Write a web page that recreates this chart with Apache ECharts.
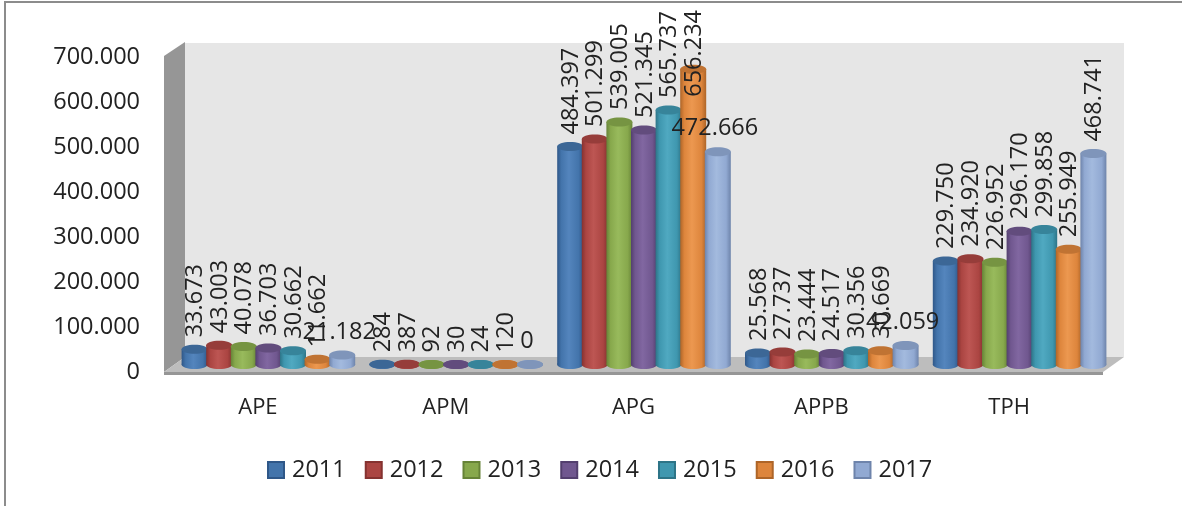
<!DOCTYPE html>
<html>
<head>
<meta charset="utf-8">
<script src="https://cdn.jsdelivr.net/npm/echarts@6/dist/echarts.min.js"></script>
<style>html,body{margin:0;background:#fff}#main{width:1182px;height:506px}</style>
</head>
<body>
<div id="main"></div>
<script>
var categories = ['APE', 'APM', 'APG', 'APPB', 'TPH'];
var years = ['2011', '2012', '2013', '2014', '2015', '2016', '2017'];
var v2011 = [33673, 284, 484397, 25568, 229750];
var v2012 = [43003, 387, 501299, 27737, 234920];
var v2013 = [40078, 92, 539005, 23444, 226952];
var v2014 = [36703, 30, 521345, 24517, 296170];
var v2015 = [30662, 24, 565737, 30356, 299858];
var v2016 = [11662, 120, 656234, 30669, 255949];
var v2017 = [21182, 0, 472666, 42059, 468741];
var values = [v2011, v2012, v2013, v2014, v2015, v2016, v2017];
// the 2017 labels stayed horizontal except on TPH
var flat2017 = ['APE', 'APM', 'APG', 'APPB'];

// base, light, dark, top
var colors = [
    ['#4374ab', '#5485bd', '#2f5788', '#3c6796'],
    ['#ab4542', '#bd5653', '#853230', '#963d3a'],
    ['#87a84c', '#98ba5c', '#668337', '#769442'],
    ['#70578f', '#8167a1', '#533f6e', '#624c7d'],
    ['#3f97af', '#50a9c1', '#2d7487', '#37849a'],
    ['#dd853c', '#ec9850', '#ae6528', '#c07333'],
    ['#91a9d2', '#a3bade', '#6e84ab', '#7f95ba']
];

var fontName = '"Open Sans", sans-serif';
var depthX = 21, depthY = 15;
var barStep = 24.6, barW = 26, ry = 4.5;

function fmt(n) {
    return String(n).replace(/\B(?=(\d{3})+(?!\d))/g, '.');
}

function renderWalls(params, api) {
    var c = params.coordSys;
    var l = c.x, r = c.x + c.width, t = c.y, b = c.y + c.height;
    return {
        type: 'group',
        children: [
            { type: 'polygon', shape: { points: [[l + depthX, t - depthY + 1], [r + depthX, t - depthY + 1], [r + depthX, b - depthY], [l + depthX, b - depthY]] }, style: { fill: '#e6e6e6' } },
            { type: 'polygon', shape: { points: [[l, t - 1], [l + depthX, t - depthY], [l + depthX, b - depthY], [l, b]] }, style: { fill: '#969696' } },
            { type: 'polygon', shape: { points: [[l, b], [l + depthX, b - depthY], [r + depthX, b - depthY], [r, b]] }, style: { fill: '#bdbdbd' } },
            { type: 'rect', shape: { x: l, y: b, width: r - l, height: 3 }, style: { fill: '#969696' } }
        ]
    };
}

function renderBar(params, api) {
    var s = params.seriesIndex - 1;
    var cat = api.value(0), val = api.value(1);
    var p0 = api.coord([cat, 0]), p1 = api.coord([cat, val]);
    var cx = p0[0] + depthX / 2 + (s - 3) * barStep;
    var yb = p0[1] - depthY / 2, yt = p1[1] - depthY / 2;
    var x = cx - barW / 2;
    var col = colors[s];
    var grad = new echarts.graphic.LinearGradient(0, 0, 1, 0, [
        { offset: 0, color: col[2] },
        { offset: 0.16, color: col[0] },
        { offset: 0.45, color: col[1] },
        { offset: 0.82, color: col[0] },
        { offset: 1, color: col[2] }
    ]);
    var kids = [
        { type: 'rect', shape: { x: x, y: yt, width: barW, height: yb - yt }, style: { fill: grad } },
        { type: 'ellipse', shape: { cx: cx, cy: yb, rx: barW / 2, ry: ry }, style: { fill: grad } },
        { type: 'ellipse', shape: { cx: cx, cy: yt, rx: barW / 2, ry: ry }, style: { fill: col[3] } }
    ];
    var flat = s === 6 && flat2017.indexOf(categories[cat]) >= 0;
    var txt = fmt(val);
    var font = '23.5px ' + fontName;
    if (flat) {
        kids.push({
            type: 'text', z2: 100, x: cx - 3, y: yt - 23,
            style: { text: txt, font: font, fill: '#222', align: 'center', verticalAlign: 'middle' }
        });
    } else {
        // a label that would run off the top gets pushed back down onto its bar
        var over = yt - 12 - 88 < 9;
        kids.push({
            type: 'text', z2: 100, x: cx + 1, y: over ? 10 : yt - 12, rotation: Math.PI / 2,
            style: { text: txt, font: font, fill: '#222', align: over ? 'right' : 'left', verticalAlign: 'middle' }
        });
    }
    return { type: 'group', children: kids };
}

var series = [{
    type: 'custom', name: 'walls', silent: true, z: 1,
    renderItem: renderWalls, data: [[0, 0]], encode: { x: 0, y: 1 }
}];
years.forEach(function (y, i) {
    series.push({
        type: 'custom', name: y, z: 2,
        renderItem: renderBar,
        itemStyle: { color: colors[i][0], borderColor: colors[i][2], borderWidth: 1.5 },
        encode: { x: 0, y: 1 },
        data: values[i].map(function (v, k) { return [k, v]; })
    });
});

var option = {
    backgroundColor: '#fff',
    animation: false,
    graphic: [
        { type: 'rect', shape: { x: 4, y: 1, width: 1178, height: 2 }, style: { fill: '#8c8c8c' } },
        { type: 'rect', shape: { x: 4, y: 1, width: 2, height: 505 }, style: { fill: '#8c8c8c' } }
    ],
    grid: { left: 164, top: 57, width: 939, height: 315 },
    legend: {
        left: 267, top: 458, padding: 0,
        data: years,
        icon: 'rect',
        itemWidth: 16, itemHeight: 16, itemGap: 19,
        textStyle: { fontFamily: fontName, fontSize: 23.5, color: '#222', padding: [0, 0, 0, 3] }
    },
    xAxis: {
        type: 'category',
        data: categories,
        axisLine: { show: false },
        axisTick: { show: false },
        axisLabel: { fontFamily: fontName, fontSize: 22, color: '#222', margin: 25 }
    },
    yAxis: {
        type: 'value',
        min: 0, max: 700000, interval: 100000,
        axisLine: { show: false },
        axisTick: { show: false },
        splitLine: { show: false },
        axisLabel: { fontFamily: fontName, fontSize: 23.5, color: '#222', margin: 24, padding: [3, 0, 0, 0], formatter: fmt }
    },
    series: series
};

var myChart = echarts.init(document.getElementById('main'));
myChart.setOption(option);
</script>
</body>
</html>
